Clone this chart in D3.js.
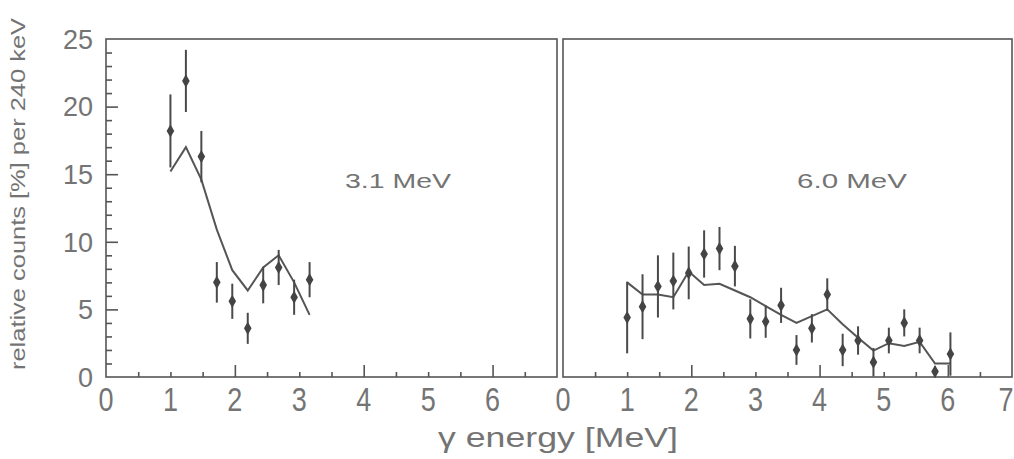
<!DOCTYPE html>
<html>
<head>
<meta charset="utf-8">
<script src="https://cdn.jsdelivr.net/npm/d3@7"></script>
<style>
  body { margin: 0; background: #fff; }
  text { font-family: "Liberation Sans", Arial, sans-serif; fill: #747474; }
</style>
</head>
<body>
<svg id="chart" width="1014" height="459"></svg>
<script>
// 3.1 MeV panel (left)
var energies3 = [1.00, 1.24, 1.48, 1.72, 1.96, 2.20, 2.44, 2.68, 2.92, 3.16];
var counts3 = [18.2, 21.9, 16.3, 7.0, 5.6, 3.6, 6.8, 8.1, 5.9, 7.2];
var errors3 = [2.7, 2.3, 1.9, 1.5, 1.3, 1.15, 1.35, 1.3, 1.3, 1.3];
var fit3 = [15.2, 17.0, 14.6, 10.9, 7.9, 6.4, 8.1, 9.0, 7.0, 4.6];

// 6.0 MeV panel (right)
var energies6 = [1.00, 1.24, 1.48, 1.72, 1.96, 2.20, 2.44, 2.68, 2.92, 3.16, 3.40,
  3.64, 3.88, 4.12, 4.36, 4.60, 4.84, 5.08, 5.32, 5.56, 5.80, 6.04];
var counts6 = [4.4, 5.2, 6.7, 7.1, 7.7, 9.1, 9.5, 8.2, 4.3, 4.1, 5.3,
  2.0, 3.6, 6.1, 2.0, 2.7, 1.1, 2.7, 4.0, 2.7, 0.4, 1.7];
var errors6 = [2.65, 2.4, 2.3, 2.1, 1.95, 1.75, 1.6, 1.5, 1.45, 1.2, 1.3,
  1.1, 1.05, 1.2, 1.2, 1.05, 1.05, 0.95, 1.0, 0.95, 0.4, 1.6];
var fit6 = [7.0, 6.1, 6.1, 5.9, 7.8, 6.8, 6.9, 6.4, 5.9, 5.25, 4.6,
  4.0, 4.5, 5.0, 3.9, 2.9, 1.95, 2.5, 2.3, 2.6, 1.0, 1.0];

// tick values / labels
var xLabels3 = [0, 1, 2, 3, 4, 5, 6];
var xLabels6 = [0, 1, 2, 3, 4, 5, 6, 7];
var xMinorTicks = [0.5, 1, 1.5, 2.5, 3, 3.5, 4.5, 5, 5.5, 6.5];
var xMajorTicks = [2, 4, 6];
var yLabels = [0, 5, 10, 15, 20, 25];
var yMinorTicks = [1, 2, 3, 4, 6, 7, 8, 9, 11, 12, 13, 14, 16, 17, 18, 19, 21, 22, 23, 24];
var yMajorTicks = [5, 10, 15, 20];

var lineColor = "#555";
var svg = d3.select("#chart");

var y = d3.scaleLinear().domain([0, 25]).range([377, 39]);
var xLeft = d3.scaleLinear().domain([0, 7]).range([106, 557]);
var xRight = d3.scaleLinear().domain([0, 7]).range([563, 1012]);

function noDomain(g) {
  g.select(".domain").remove();
  g.selectAll("line").attr("stroke", lineColor).attr("stroke-width", 1.6);
}

//Draws one panel: frame, ticks, fit line, points with error bars
function drawPanel(x, energies, counts, errors, fit, xLabels, title, titleX, titleLen) {
  svg.append("rect")
    .attr("x", x(0))
    .attr("y", y(25))
    .attr("width", x(7) - x(0))
    .attr("height", y(0) - y(25))
    .attr("fill", "none")
    .attr("stroke", lineColor)
    .attr("stroke-width", 1.6);

  svg.append("g")
    .attr("transform", "translate(0," + y(0) + ")")
    .call(d3.axisBottom(x).tickValues(xMinorTicks).tickSize(-5).tickFormat(""))
    .call(noDomain);
  svg.append("g")
    .attr("transform", "translate(0," + y(0) + ")")
    .call(d3.axisBottom(x).tickValues(xMajorTicks).tickSize(-12).tickFormat(""))
    .call(noDomain);

  // the last label sits on the page edge, so keep it inside
  svg.selectAll(null)
    .data(xLabels)
    .enter()
    .append("text")
    .attr("transform", function (d) {
      var px = Math.min(x(d), 1006);
      return "translate(" + px + ",411) scale(1,1.25)";
    })
    .attr("text-anchor", "middle")
    .attr("font-size", 27)
    .text(function (d) { return d; });

  var line = d3.line()
    .x(function (d, i) { return x(energies[i]); })
    .y(function (d) { return y(d); });

  svg.append("path")
    .datum(fit)
    .attr("d", line)
    .attr("fill", "none")
    .attr("stroke", lineColor)
    .attr("stroke-width", 2)
    .attr("stroke-linejoin", "miter");

  svg.selectAll(null)
    .data(counts)
    .enter()
    .append("line")
    .attr("x1", function (d, i) { return x(energies[i]); })
    .attr("x2", function (d, i) { return x(energies[i]); })
    .attr("y1", function (d, i) { return y(Math.min(25, d + errors[i])); })
    .attr("y2", function (d, i) { return y(Math.max(0, d - errors[i])); })
    .attr("stroke", "#4a4a4a")
    .attr("stroke-width", 2);

  svg.selectAll(null)
    .data(counts)
    .enter()
    .append("path")
    .attr("d", d3.symbol().type(d3.symbolDiamond).size(50))
    .attr("transform", function (d, i) {
      return "translate(" + x(energies[i]) + "," + y(d) + ")";
    })
    .attr("fill", "#444");

  svg.append("text")
    .attr("x", titleX)
    .attr("y", 188)
    .attr("font-size", 21)
    .attr("textLength", titleLen)
    .attr("lengthAdjust", "spacingAndGlyphs")
    .text(title);
}

drawPanel(xLeft, energies3, counts3, errors3, fit3, xLabels3, "3.1 MeV", 345, 106);
drawPanel(xRight, energies6, counts6, errors6, fit6, xLabels6, "6.0 MeV", 797, 110);

// y axis ticks only on the left panel
svg.append("g")
  .attr("transform", "translate(" + xLeft(0) + ",0)")
  .call(d3.axisLeft(y).tickValues(yMinorTicks).tickSize(-6).tickFormat(""))
  .call(noDomain);
svg.append("g")
  .attr("transform", "translate(" + xLeft(0) + ",0)")
  .call(d3.axisLeft(y).tickValues(yMajorTicks).tickSize(-12).tickFormat(""))
  .call(noDomain);

svg.selectAll(null)
  .data(yLabels)
  .enter()
  .append("text")
  .attr("x", 93)
  .attr("y", function (d) { return y(d); })
  .attr("dy", "0.36em")
  .attr("text-anchor", "end")
  .attr("font-size", 27)
  .text(function (d) { return d; });

// axis titles
svg.append("text")
  .attr("transform", "translate(25,194) rotate(-90)")
  .attr("text-anchor", "middle")
  .attr("font-size", 21)
  .attr("textLength", 352)
  .attr("lengthAdjust", "spacingAndGlyphs")
  .text("relative counts [%] per 240 keV");

svg.append("text")
  .attr("x", 438)
  .attr("y", 447)
  .attr("font-size", 28)
  .attr("textLength", 240)
  .attr("lengthAdjust", "spacingAndGlyphs")
  .text("γ energy [MeV]");
</script>
</body>
</html>
